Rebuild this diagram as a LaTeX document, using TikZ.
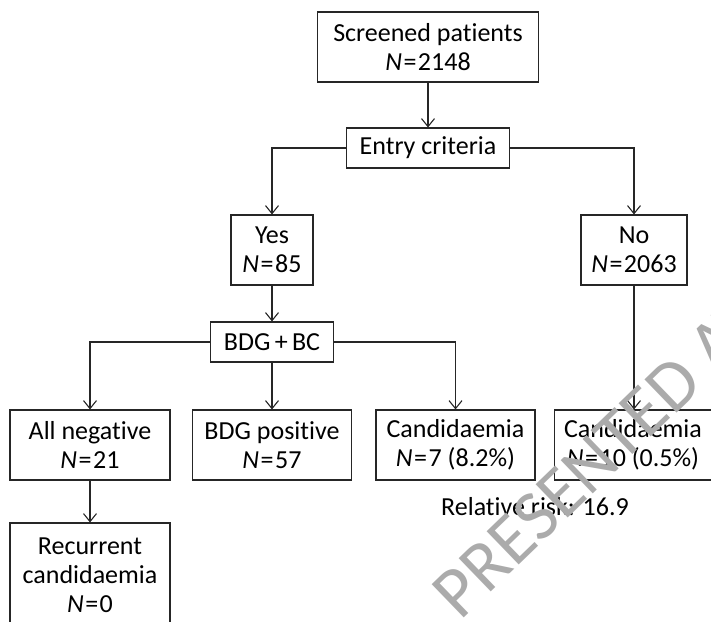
\documentclass[tikz,border=0pt]{standalone}
\usepackage{fontspec}
\setmainfont{Carlito}[Ligatures=NoCommon]
\usetikzlibrary{arrows.meta}

\begin{document}
\begin{tikzpicture}[x=1pt,y=-1pt,
  box/.style={draw=black!85,line width=1.1pt,inner sep=0pt,align=center,
    font=\fontsize{26}{29}\selectfont},
  arr/.style={draw=black!85,line width=1.1pt,-{Straight Barb[length=8pt,width=13pt]}},
  wmark/.style={text=black!33,rotate=44,anchor=base west,font=\fontsize{72}{72}\selectfont}]
\useasboundingbox (0,0) rectangle (711,621);
\clip (0,0) rectangle (711,621);
\node[box,minimum width=221,minimum height=70] (scr) at (428,47) {Screened patients\\\textit{N}\kern1.5pt=\kern1.5pt2148};
\node[box,minimum width=163,minimum height=40] (entry) at (428,148) {Entry criteria};
\node[box,minimum width=82,minimum height=70] (yes) at (272,250) {Yes\\\textit{N}\kern1.5pt=\kern1.5pt85};
\node[box,minimum width=106,minimum height=70] (no) at (634,250) {No\\\textit{N}\kern1.5pt=\kern1.5pt2063};
\node[box,minimum width=123,minimum height=40] (bdg) at (272,342) {BDG\,+\,BC};
\node[box,minimum width=160,minimum height=70] (neg) at (90,445) {All negative\\\textit{N}\kern1.5pt=\kern1.5pt21};
\node[box,minimum width=159,minimum height=70] (pos) at (272,445) {BDG positive\\\textit{N}\kern1.5pt=\kern1.5pt57};
\node[box,minimum width=159,minimum height=70] (cand1) at (455.5,445) {Candidaemia\\\textit{N}\kern1.5pt=\kern1.5pt7 (8.2\%)};
\node[box,minimum width=157,minimum height=70] (cand2) at (633,445) {Candidaemia\\\textit{N}\kern1.5pt=\kern1.5pt10 (0.5\%)};
\node[box,draw=none] (rr) at (535,507) {Relative risk: 16.9};
\node[box,minimum width=160,minimum height=104] (rec) at (90,575) {Recurrent\\candidaemia\\\textit{N}\kern1.5pt=\kern1.5pt0};
% connectors
\draw[arr] (scr) -- (entry);
\draw[arr] (entry.west) -| (yes.north);
\draw[arr] (entry.east) -| (no.north);
\draw[arr] (yes) -- (bdg);
\draw[arr] (bdg.west) -| (neg.north);
\draw[arr] (bdg) -- (pos);
\draw[arr] (bdg.east) -| (cand1.north);
\draw[arr] (no.south) -- (no.south |- cand2.north);
\draw[arr] (neg) -- (rec);
% watermark
\node[wmark] (wm) at (458,624) {PRESENTED AT};
\end{tikzpicture}
\end{document}
